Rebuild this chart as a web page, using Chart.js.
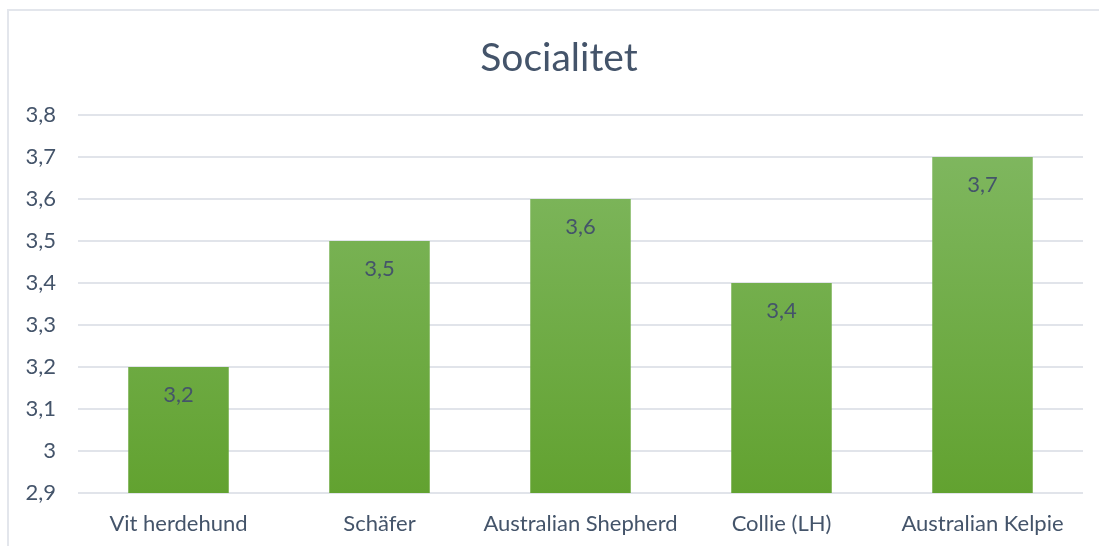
<!DOCTYPE html>
<html>
<head>
<meta charset="utf-8">
<script src="https://cdn.jsdelivr.net/npm/chart.js@4.4.1/dist/chart.umd.min.js"></script>
<style>
  html, body { margin: 0; padding: 0; background: #fff; }
  #wrap { position: relative; width: 1099px; height: 546px; }
  #frame { position: absolute; left: 7px; top: 9px; right: 0; bottom: 0;
           border-left: 2px solid #e3e6ec; border-top: 2px solid #e3e6ec; }
  canvas { position: absolute; left: 0; top: 0; }
</style>
</head>
<body>
<div id="wrap">
  <div id="frame"></div>
  <canvas id="socialChart" width="1099" height="546"></canvas>
</div>
<script>
const chartTitle = 'Socialitet';
const breeds = ["Vit herdehund", "Schäfer", "Australian Shepherd", "Collie (LH)", "Australian Kelpie"];
const scores = [3.2, 3.5, 3.6, 3.4, 3.7];
const yTicks = [2.9, 3.0, 3.1, 3.2, 3.3, 3.4, 3.5, 3.6, 3.7, 3.8];

const textColor = '#44546a';
const fontFamily = 'Lato, "Open Sans", sans-serif';

function commaNumber(v) {
    return Number(v.toFixed(1)).toString().replace('.', ',');
}

// labels in the top of each bar + the title (centred on the whole frame)
const barLabels = {
    id: 'barLabels',
    afterDatasetsDraw(chart) {
        const ctx = chart.ctx;
        const meta = chart.getDatasetMeta(0);
        ctx.save();
        ctx.fillStyle = textColor;
        ctx.font = '22px ' + fontFamily;
        ctx.textAlign = 'center';
        ctx.textBaseline = 'middle';
        meta.data.forEach((bar, i) => {
            ctx.fillText(commaNumber(scores[i]), bar.x, bar.y + 28);
        });
        ctx.font = '39px ' + fontFamily;
        ctx.fillText(chartTitle, 559, 58);
        ctx.restore();
    }
};

function barGradient(context) {
    const area = context.chart.chartArea;
    if (!area) return '#70ad47';
    const g = context.chart.ctx.createLinearGradient(0, area.top, 0, area.bottom);
    g.addColorStop(0, '#82b964');
    g.addColorStop(1, '#62a230');
    return g;
}

const ctx = document.getElementById('socialChart').getContext('2d');
const socialChart = new Chart(ctx, {
    type: 'bar',
    data: {
        labels: breeds,
        datasets: [{
            label: chartTitle,
            data: scores,
            backgroundColor: barGradient,
            borderWidth: 0,
            categoryPercentage: 1,
            barPercentage: 0.5
        }]
    },
    options: {
        responsive: false,
        animation: false,
        layout: { padding: { left: 8, right: 16, top: 115, bottom: 0 } },
        plugins: {
            legend: { display: false },
            tooltip: { enabled: false },
            title: { display: false }
        },
        scales: {
            y: {
                min: 2.9,
                max: 3.8,
                afterBuildTicks(scale) {
                    scale.ticks = yTicks.map(v => ({ value: v }));
                },
                afterFit(scale) { scale.width = 70; },
                border: { display: false },
                grid: { color: '#e1e4ea', lineWidth: 2, drawTicks: false },
                ticks: {
                    color: textColor,
                    padding: 22,
                    font: { family: fontFamily, size: 22 },
                    callback: v => commaNumber(v)
                }
            },
            x: {
                afterFit(scale) { scale.height = 53; },
                border: { display: false },
                grid: { display: false, drawTicks: false },
                ticks: {
                    color: textColor,
                    padding: 18,
                    font: { family: fontFamily, size: 22 }
                }
            }
        }
    },
    plugins: [barLabels]
});
</script>
</body>
</html>
